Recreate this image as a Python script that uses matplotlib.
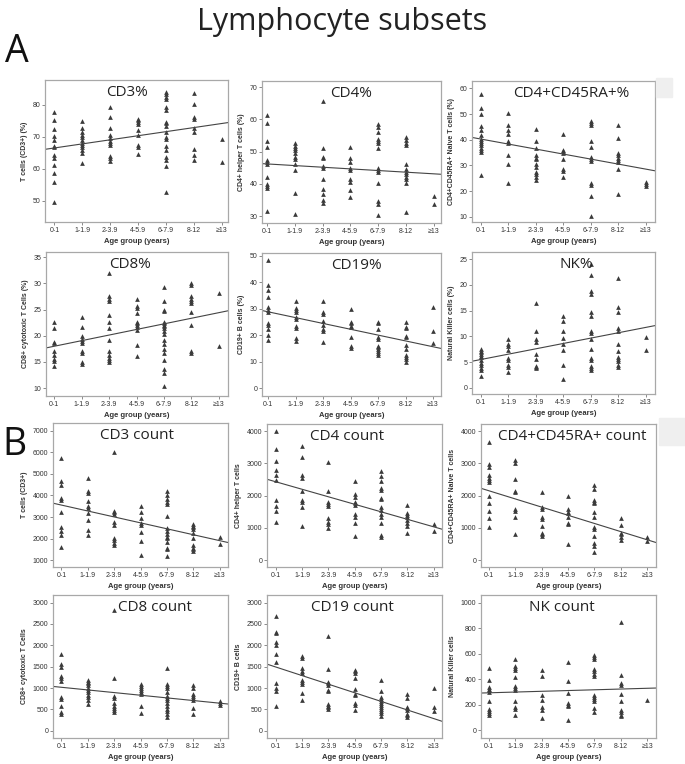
import matplotlib
matplotlib.use('Agg')
import matplotlib.pyplot as plt
import matplotlib.patches as mpatches

W, H = 685, 764

age_groups = ['0-1', '1-1.9', '2-3.9', '4-5.9', '6-7.9', '8-12', '≥13']

# ---- Panel A: percentages (one list per age group) ----
cd3_pct = [
    [77.7, 75.3, 72.3, 70.3, 68.9, 67.2, 66.7, 64.3, 63.3, 61.2, 58.8, 55.8, 49.5],
    [74.8, 72.8, 71.4, 70.5, 69.8, 69.0, 68.2, 67.4, 66.7, 65.8, 64.8, 61.9],
    [79.2, 76.3, 72.8, 70.5, 69.5, 68.8, 68.1, 67.4, 64.0, 63.2, 62.5],
    [75.7, 75.2, 74.6, 74.0, 72.1, 70.5, 67.3, 66.9, 64.5],
    [84.0, 83.3, 82.5, 81.8, 79.3, 78.3, 74.7, 74.2, 73.3, 71.6, 70.0, 69.2, 67.0, 66.0, 63.8, 62.7, 60.9, 52.8],
    [83.8, 80.4, 76.3, 75.7, 72.9, 71.6, 66.2, 64.3, 62.7],
    [69.3, 62.2],
]
cd4_pct = [
    [61.5, 59.0, 53.3, 51.5, 47.5, 46.8, 46.2, 42.3, 40.0, 39.3, 38.6, 31.6],
    [52.6, 51.8, 51.1, 50.4, 49.7, 48.5, 47.7, 46.3, 44.2, 37.1, 30.7],
    [65.8, 51.1, 48.4, 47.9, 45.6, 45.0, 41.4, 38.5, 37.0, 34.9, 34.2],
    [51.5, 47.9, 46.8, 44.9, 44.2, 41.4, 40.6, 38.0, 36.0],
    [58.5, 57.8, 56.0, 53.9, 53.3, 52.6, 51.1, 44.8, 44.3, 43.7, 40.4, 34.7, 33.9, 30.5],
    [54.4, 53.6, 52.6, 52.0, 46.1, 44.5, 43.7, 43.0, 42.3, 41.6, 40.4, 31.4],
    [36.4, 33.9],
]
cd45ra_pct = [
    [57.8, 52.2, 50.0, 45.5, 43.8, 41.7, 40.3, 39.6, 38.7, 37.8, 37.0, 36.1, 35.2, 26.3],
    [50.5, 45.6, 43.9, 42.2, 39.6, 38.7, 34.2, 30.6, 23.3],
    [44.2, 39.6, 37.0, 33.9, 33.1, 32.5, 30.5, 29.6, 27.6, 26.7, 25.7, 24.4],
    [42.4, 36.1, 35.5, 34.8, 32.6, 28.7, 27.9, 25.7],
    [47.2, 46.6, 45.9, 39.4, 37.2, 33.2, 32.5, 31.9, 23.1, 22.4, 18.1, 10.4],
    [45.9, 40.9, 34.8, 34.1, 32.8, 32.2, 31.5, 28.5, 18.9],
    [23.7, 22.8, 22.0],
]
cd8_pct = [
    [22.6, 21.4, 18.9, 18.6, 17.1, 16.4, 15.5, 15.2, 14.2],
    [23.5, 21.6, 19.9, 19.4, 19.0, 18.6, 17.1, 16.8, 15.0, 14.6],
    [31.9, 27.6, 27.0, 26.6, 24.0, 22.7, 21.5, 19.2, 17.0, 16.3, 15.8, 15.4, 15.0],
    [27.1, 25.7, 25.3, 24.4, 22.7, 22.4, 22.1, 21.6, 21.1, 18.3, 16.1],
    [29.4, 26.6, 25.0, 24.7, 22.7, 22.4, 22.1, 21.8, 21.4, 21.0, 20.3, 19.2, 18.4, 17.4, 16.8, 15.4, 13.7, 12.9, 10.5],
    [30.0, 29.7, 27.6, 27.1, 26.6, 26.3, 24.6, 22.1, 17.0, 16.8],
    [28.1, 18.1],
]
cd19_pct = [
    [48.2, 39.1, 36.9, 34.3, 30.6, 29.3, 28.7, 24.4, 23.9, 22.2, 20.2, 18.2],
    [33.0, 30.4, 29.6, 28.7, 26.7, 26.1, 23.5, 22.8, 18.9, 17.9],
    [33.0, 28.7, 28.0, 25.4, 23.9, 22.2, 21.5, 17.3],
    [30.0, 25.1, 24.4, 23.5, 23.1, 19.3, 15.9, 15.0],
    [25.1, 24.4, 22.2, 19.2, 18.6, 16.0, 15.4, 14.7, 13.9, 13.3, 12.6],
    [25.1, 23.2, 22.5, 19.8, 19.3, 16.3, 14.6, 12.6, 11.7, 10.8, 9.8],
    [30.6, 21.5, 16.9],
]
nk_pct = [
    [7.5, 7.2, 6.9, 6.5, 6.2, 5.9, 5.5, 4.8, 4.4, 3.9, 3.5, 2.3],
    [9.5, 8.6, 8.2, 7.4, 5.8, 5.4, 4.5, 4.1, 3.0],
    [16.5, 11.1, 9.5, 9.0, 6.6, 5.6, 4.3, 4.0, 3.8],
    [13.9, 12.9, 11.1, 9.7, 8.5, 7.3, 4.5, 1.8],
    [24.0, 21.9, 18.9, 18.3, 14.8, 13.9, 11.1, 10.6, 9.5, 7.5, 5.8, 5.4, 4.2, 3.9, 3.5],
    [21.4, 15.8, 14.7, 11.6, 11.1, 8.6, 7.1, 6.0, 5.6, 5.3, 4.5, 4.1],
    [9.8, 7.4],
]

# ---- Panel B: absolute counts ----
cd3_count = [
    [5750, 4680, 4470, 3900, 3800, 3220, 2550, 2350, 2170, 1620],
    [4800, 4190, 4110, 3720, 3490, 3410, 3180, 2870, 2400, 2170],
    [6000, 3290, 3220, 3130, 2790, 2630, 2040, 1930, 1810, 1700],
    [3530, 3220, 2970, 2710, 2630, 2290, 1900, 1260],
    [4220, 4000, 3840, 3690, 3600, 3070, 2510, 2350, 2200, 2090, 2010, 1850, 1590, 1510, 1200],
    [2660, 2600, 2520, 2430, 2270, 2040, 1700, 1570, 1510, 1420],
    [2060, 1750],
]
cd4_count = [
    [4000, 3430, 3080, 2800, 2640, 2490, 1870, 1690, 1520, 1190],
    [3550, 3200, 2640, 2540, 2150, 1870, 1790, 1640, 1070],
    [3030, 2150, 1810, 1740, 1680, 1320, 1190, 1110, 1010],
    [2460, 2050, 1970, 1810, 1760, 1710, 1420, 1350, 1170, 750],
    [2760, 2620, 2460, 2230, 2180, 1940, 1900, 1660, 1550, 1420, 1350, 1140, 780, 730],
    [1710, 1450, 1400, 1330, 1240, 1160, 1060, 860],
    [1110, 900],
]
cd45ra_count = [
    [3650, 2990, 2880, 2640, 2540, 2470, 2410, 2000, 1760, 1520, 1300, 1040],
    [3100, 3020, 2520, 2160, 2120, 1590, 1530, 1350, 810],
    [2120, 1640, 1590, 1330, 1280, 1070, 860, 810, 750],
    [2000, 1590, 1500, 1450, 1350, 1140, 1110, 500],
    [2330, 2210, 1870, 1810, 1760, 1480, 1350, 1040, 960, 750, 540, 440, 260],
    [1300, 1090, 860, 800, 730, 620],
    [730, 600],
]
cd8_count = [
    [1800, 1560, 1490, 1270, 1230, 1170, 780, 740, 580, 430, 400],
    [1190, 1150, 1120, 1060, 1010, 960, 900, 830, 780, 730, 630],
    [2830, 1230, 820, 770, 660, 570, 530, 490, 430],
    [1090, 1040, 1000, 960, 900, 860, 580, 410],
    [1480, 1090, 1040, 1000, 900, 820, 770, 710, 650, 570, 510, 450, 390, 320],
    [1060, 1000, 860, 820, 770, 730, 530, 400],
    [700, 650, 610],
]
cd19_count = [
    [2690, 2320, 2300, 2070, 2010, 1800, 1610, 1120, 1000, 940, 590],
    [1740, 1700, 1480, 1400, 1350, 1190, 1150, 1100, 880, 730],
    [2220, 1440, 1150, 1120, 1080, 960, 920, 630, 590, 560, 510],
    [1430, 1390, 1350, 1230, 980, 870, 830, 660, 610, 480],
    [1190, 920, 800, 740, 700, 660, 610, 560, 510, 450, 410, 340],
    [870, 770, 560, 530, 490, 400, 360, 320],
    [1000, 550, 450],
]
nk_count = [
    [490, 396, 340, 326, 313, 300, 232, 167, 148, 135, 122],
    [560, 505, 487, 474, 414, 344, 331, 318, 232, 180, 167, 122],
    [474, 427, 273, 240, 180, 161, 96],
    [539, 383, 292, 214, 201, 188, 78],
    [591, 573, 557, 479, 461, 443, 427, 273, 260, 245, 232, 174, 141],
    [846, 435, 370, 357, 284, 227, 161, 141, 122, 109],
    [240],
]

# regression lines: (value at first group, change per group)
fit_lines = {
    'cd3_pct': (66.5, 1.28), 'cd4_pct': (46.2, -0.51), 'cd45ra_pct': (40.3, -1.95),
    'cd8_pct': (18.0, 1.07), 'cd19_pct': (28.8, -2.20), 'nk_pct': (5.5, 1.04),
    'cd3_count': (3554, -274), 'cd4_count': (2429, -232), 'cd45ra_count': (2152, -253),
    'cd8_count': (1017, -62), 'cd19_count': (1491, -201), 'nk_count': (294, 5.9),
}

panels = [
    # key, data, title, ylabel, ylim, yticks, xlim, pixel box (x0, y0, x1, y1), title x
    ('cd3_pct', cd3_pct, 'CD3%', 'T cells (CD3+) (%)', (43.3, 87.8), range(50, 81, 10),
     (-0.335, 6.215), (45, 80, 228, 222), 0.45),
    ('cd4_pct', cd4_pct, 'CD4%', 'CD4+ helper T cells (%)', (27.9, 71.9), range(30, 71, 10),
     (-0.19, 6.27), (262, 81, 441, 223), 0.50),
    ('cd45ra_pct', cd45ra_pct, 'CD4+CD45RA+%', 'CD4+CD45RA+ Naive T cells (%)', (8.0, 62.9), range(10, 61, 10),
     (-0.32, 6.34), (472, 81, 655, 222), 0.54),
    ('cd8_pct', cd8_pct, 'CD8%', 'CD8+ cytotoxic T Cells (%)', (8.5, 36.0), range(10, 36, 5),
     (-0.30, 6.33), (46, 252, 228, 396), 0.46),
    ('cd19_pct', cd19_pct, 'CD19%', 'CD19+ B cells (%)', (-3.0, 51.0), range(0, 51, 10),
     (-0.22, 6.29), (262, 253, 441, 396), 0.53),
    ('nk_pct', nk_pct, 'NK%', 'Natural Killer cells (%)', (-1.2, 26.4), range(0, 26, 5),
     (-0.32, 6.34), (472, 252, 655, 394), 0.57),
    ('cd3_count', cd3_count, 'CD3 count', 'T cells (CD3+)', (690, 7350), range(1000, 7001, 1000),
     (-0.32, 6.32), (53, 423, 228, 567), 0.48),
    ('cd4_count', cd4_count, 'CD4 count', 'CD4+ helper T cells', (-207, 4218), range(0, 4001, 1000),
     (-0.34, 6.32), (267, 424, 442, 567), 0.46),
    ('cd45ra_count', cd45ra_count, 'CD4+CD45RA+ count', 'CD4+CD45RA+ Naive T cells', (-207, 4218),
     range(0, 4001, 1000), (-0.30, 6.33), (481, 424, 656, 567), 0.52),
    ('cd8_count', cd8_count, 'CD8 count', 'CD8+ cytotoxic T Cells', (-171, 3179), range(0, 3001, 500),
     (-0.32, 6.32), (53, 595, 228, 738), 0.585),
    ('cd19_count', cd19_count, 'CD19 count', 'CD19+ B cells', (-171, 3179), range(0, 3001, 500),
     (-0.34, 6.32), (267, 595, 442, 738), 0.49),
    ('nk_count', nk_count, 'NK count', 'Natural Killer cells', (-60, 1060), range(0, 1001, 200),
     (-0.30, 6.33), (481, 595, 656, 738), 0.46),
]

TICK_FONT = ['Liberation Sans', 'DejaVu Sans']
TITLE_FONT = ['Open Sans', 'DejaVu Sans']
mark_col = '#3a3a3a'
frame_col = '#a8a8a8'

fig = plt.figure(figsize=(W / 100, H / 100), dpi=100)


def px_box(x0, y0, x1, y1):
    return [x0 / W, 1 - y1 / H, (x1 - x0) / W, (y1 - y0) / H]


# light grey blocks that sit beside two of the panels
for (x0, y0, x1, y1) in [(656, 78, 672, 97), (659, 418, 685, 445)]:
    fig.patches.append(mpatches.Rectangle((x0 / W, 1 - y1 / H), (x1 - x0) / W, (y1 - y0) / H,
                                          transform=fig.transFigure, color='#efefef', zorder=0))

for key, data, title, ylabel, ylim, yticks, xlim, box, tx in panels:
    ax = fig.add_axes(px_box(*box))
    for i, vals in enumerate(data):
        ax.plot([i] * len(vals), vals, linestyle='none', marker='^', ms=3.4,
                color=mark_col, markeredgewidth=0)
    b0, b1 = fit_lines[key]
    ax.plot(xlim, [b0 + b1 * xlim[0], b0 + b1 * xlim[1]], color='#444444', lw=0.8)
    ax.set_xlim(*xlim)
    ax.set_ylim(*ylim)
    ax.set_yticks(list(yticks))
    ax.set_xticks(range(len(age_groups)))
    ax.set_xticklabels(age_groups)
    for sp in ax.spines.values():
        sp.set_color(frame_col)
        sp.set_linewidth(0.9)
    ax.tick_params(length=2, width=0.6, color='#777777', pad=1.5,
                   labelsize=5, labelcolor='#333333')
    for lab in ax.get_xticklabels() + ax.get_yticklabels():
        lab.set_family(TICK_FONT)
    ax.set_xlabel('Age group (years)', fontsize=5.5, family=TICK_FONT, color='#333333',
                  fontweight='bold', labelpad=3)
    ax.set_ylabel(ylabel, fontsize=5, family=TICK_FONT, color='#333333',
                  fontweight='bold', labelpad=3)
    ax.text(tx, 0.91, title, transform=ax.transAxes, ha='center', va='center',
            fontsize=11, family=TITLE_FONT, color='#222222')

fig.text(0.5, 1 - 22 / H, 'Lymphocyte subsets', ha='center', va='center',
         fontsize=22, family=TITLE_FONT, color='#222222')
fig.text(5 / W, 1 - 52 / H, 'A', ha='left', va='center', fontsize=27,
         family=TITLE_FONT, color='#111111')
fig.text(2 / W, 1 - 445 / H, 'B', ha='left', va='center', fontsize=27,
         family=TITLE_FONT, color='#111111')

plt.savefig('out.png', dpi=100)
plt.close()
